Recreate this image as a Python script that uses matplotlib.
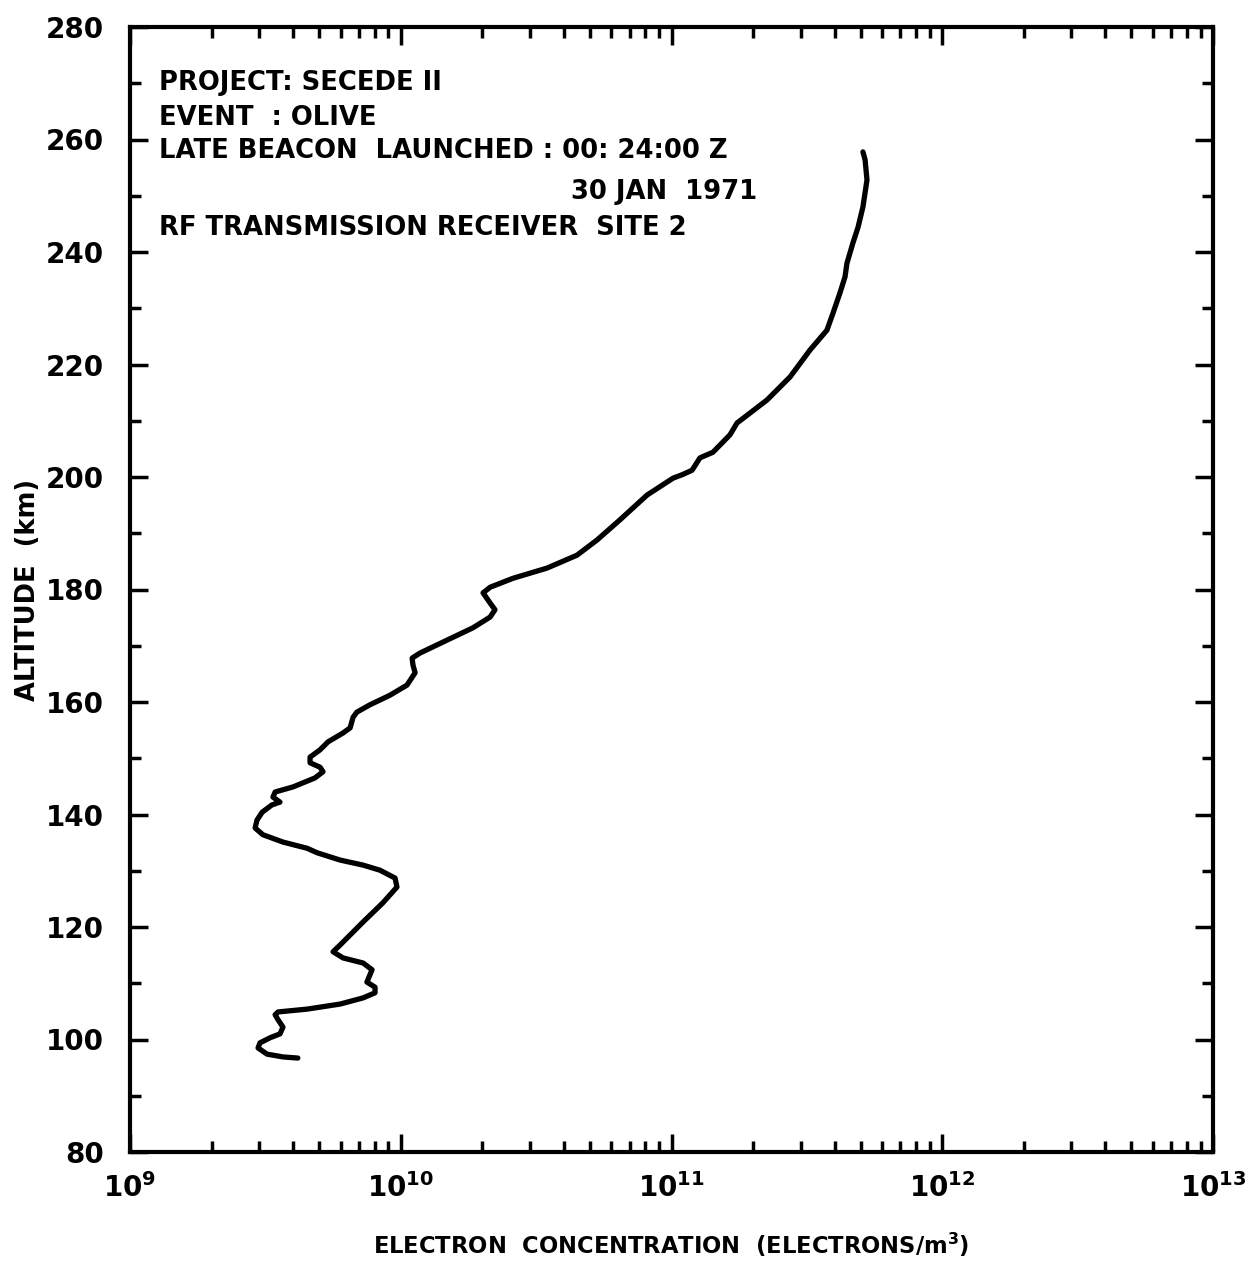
import matplotlib
matplotlib.use("Agg")
import matplotlib.pyplot as plt
import numpy as np
from matplotlib.ticker import LogLocator, MultipleLocator, FixedLocator, NullFormatter

plt.rcParams['font.family'] = ['DejaVu Sans']
plt.rcParams['font.weight'] = 'bold'
plt.rcParams['mathtext.fontset'] = 'custom'
plt.rcParams['mathtext.rm'] = 'DejaVu Sans:bold'
plt.rcParams['mathtext.it'] = 'DejaVu Sans:bold'
plt.rcParams['mathtext.bf'] = 'DejaVu Sans:bold'

# Electron concentration profile (log10 electrons/m^3) vs altitude (km), bottom to top
log_density = [9.620, 9.565, 9.506, 9.473, 9.480, 9.517, 9.554, 9.565, 9.547, 9.536,
               9.547, 9.654, 9.776, 9.861, 9.905, 9.905, 9.875, 9.894, 9.861, 9.787,
               9.750, 9.776, 9.861, 9.934, 9.986, 9.979, 9.923, 9.861, 9.776, 9.691,
               9.654, 9.565, 9.491, 9.462, 9.469, 9.488, 9.524, 9.554, 9.528, 9.536,
               9.602, 9.683, 9.713, 9.702, 9.665, 9.665, 9.702, 9.731, 9.787, 9.813,
               9.824, 9.838, 9.886, 9.960, 10.023, 10.053, 10.045, 10.042, 10.071, 10.171,
               10.267, 10.330, 10.348, 10.330, 10.304, 10.330, 10.415, 10.540, 10.651, 10.725,
               10.810, 10.910, 11.006, 11.039, 11.076, 11.105, 11.153, 11.216, 11.242, 11.353,
               11.438, 11.512, 11.574, 11.597, 11.622, 11.641, 11.648, 11.659, 11.670, 11.689,
               11.707, 11.722, 11.715, 11.707]
altitude = [96.7, 96.9, 97.4, 98.5, 99.4, 100.3, 101.0, 102.2, 103.5, 104.4,
            104.9, 105.4, 106.3, 107.4, 108.3, 109.3, 110.2, 112.4, 113.6, 114.5,
            115.6, 116.8, 120.9, 124.3, 127.1, 128.7, 130.1, 131.0, 131.9, 133.2,
            134.0, 135.1, 136.4, 137.6, 139.0, 140.4, 141.7, 142.2, 143.1, 144.0,
            144.9, 146.5, 147.6, 148.4, 149.2, 150.2, 151.5, 152.9, 154.5, 155.4,
            157.3, 158.2, 159.5, 161.2, 163.0, 165.2, 166.6, 167.8, 168.7, 171.0,
            173.2, 175.1, 176.4, 177.6, 179.4, 180.4, 182.0, 183.8, 186.1, 188.8,
            192.4, 196.8, 199.8, 200.4, 201.2, 203.4, 204.4, 207.5, 209.6, 213.7,
            217.8, 222.6, 226.1, 229.2, 232.7, 235.6, 238.0, 239.8, 241.6, 244.4,
            248.0, 252.8, 256.4, 257.8]

x_decades = [9, 10, 11, 12, 13]
x_tick_labels = [r'$10^{9}$', r'$10^{10}$', r'$10^{11}$', r'$10^{12}$', r'$10^{13}$']
y_ticks = [80, 100, 120, 140, 160, 180, 200, 220, 240, 260, 280]

annotation_lines = ["PROJECT: SECEDE II", "EVENT  : OLIVE", "LATE BEACON  LAUNCHED : 00: 24:00 Z"]
date_line = "30 JAN  1971"
site_line = "RF TRANSMISSION RECEIVER  SITE 2"

fig = plt.figure(figsize=(12.51, 12.8), dpi=100)
ax = fig.add_axes([130/1251, 1 - 1152/1280, (1213-130)/1251, (1152-27)/1280])

density = [10**v for v in log_density]
ax.plot(density, altitude, color='black', lw=3.8, solid_capstyle='round', solid_joinstyle='round')

ax.set_xscale('log')
ax.set_xlim(10**x_decades[0], 10**x_decades[-1])
ax.set_ylim(80, 280)

ax.xaxis.set_major_locator(FixedLocator([10**d for d in x_decades]))
ax.set_xticklabels(x_tick_labels)
ax.xaxis.set_minor_locator(LogLocator(base=10, subs=np.arange(2, 10), numticks=20))
ax.xaxis.set_minor_formatter(NullFormatter())
ax.set_yticks(y_ticks)
ax.yaxis.set_minor_locator(MultipleLocator(10))

for s in ax.spines.values():
    s.set_linewidth(3)
ax.tick_params(which='both', direction='in', top=True, right=True, width=2.5, color='black')
ax.tick_params(which='major', length=13, labelsize=20)
ax.tick_params(axis='y', which='major', pad=19)
ax.tick_params(axis='x', which='major', pad=15)
ax.tick_params(which='minor', length=8)
for lab in ax.get_xticklabels() + ax.get_yticklabels():
    lab.set_fontweight('bold')

ax.set_xlabel(r'ELECTRON  CONCENTRATION  (ELECTRONS/m$^{3}$)', fontsize=16.3,
              fontweight='bold', labelpad=20)
ax.set_ylabel('ALTITUDE  (km)', fontsize=18.5, fontweight='bold', labelpad=3)

tx = 0.027
fs = 18.6
base = [0.944, 0.913, 0.8836, 0.8471, 0.8151]
for i, line in enumerate(annotation_lines):
    ax.text(tx, base[i], line, transform=ax.transAxes, fontsize=fs,
            fontweight='bold', va='baseline', ha='left')
ax.text(0.579, base[3], date_line, transform=ax.transAxes, fontsize=fs,
        fontweight='bold', va='baseline', ha='right')
ax.text(tx, base[4], site_line, transform=ax.transAxes, fontsize=fs,
        fontweight='bold', va='baseline', ha='left')

fig.savefig('out.png', dpi=100, facecolor='white')
